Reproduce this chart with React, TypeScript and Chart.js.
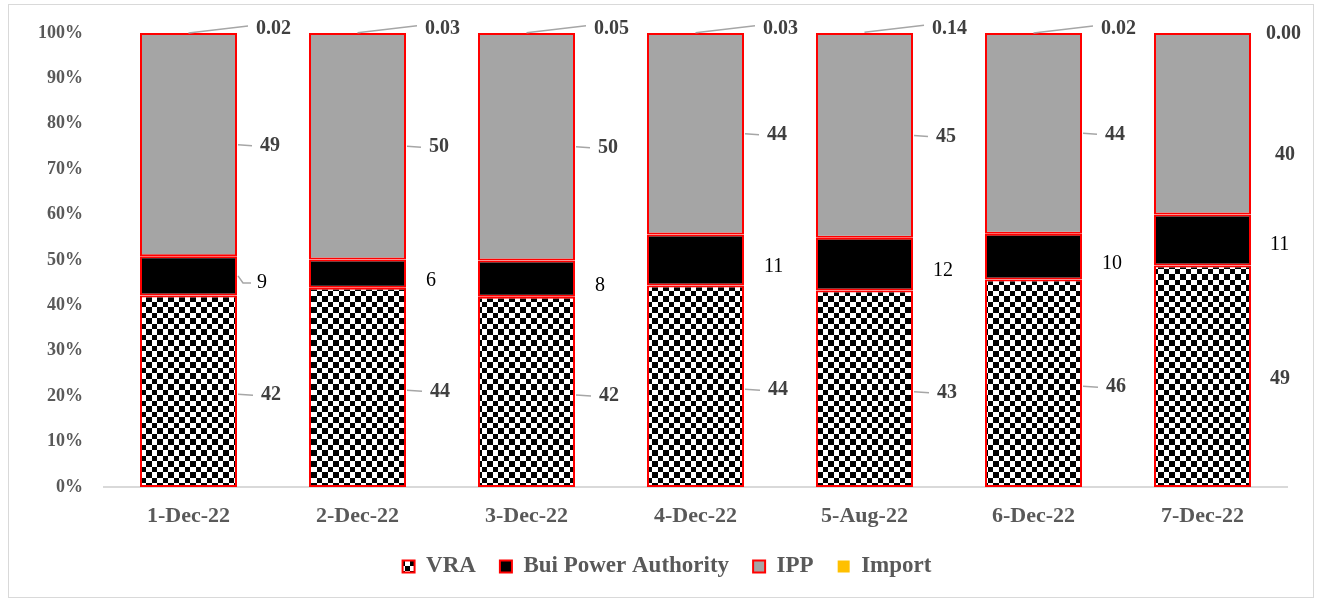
import React, { useEffect, useRef } from "react";
import { Chart, registerables } from "chart.js";

Chart.register(...registerables);

// ---------- data ----------
const CATEGORIES = ["1-Dec-22", "2-Dec-22", "3-Dec-22", "4-Dec-22", "5-Aug-22", "6-Dec-22", "7-Dec-22"];
const SERIES = ["VRA", "Bui Power Authority", "IPP", "Import"];
const VRA = [42.2, 43.9, 41.9, 44.4, 43.3, 45.7, 48.8];
const BUI = [8.6, 6.2, 8.0, 11.2, 11.6, 10.1, 11.2];
const IPP = [49.2, 49.9, 50.1, 44.4, 45.1, 44.2, 40.0];
const IMPORT = [0.02, 0.03, 0.05, 0.03, 0.14, 0.02, 0.0];
const Y_MIN = 0;
const Y_MAX = 100;
const Y_STEP = 10;

// ---------- label styling (placement, not data) ----------
const FONT = "'Liberation Serif', 'DejaVu Serif', serif";
const LABEL_STYLE = [
  { font: `bold 20px ${FONT}`, color: "#404040", dx: 24, dy: 4, decimals: 0 },
  { font: `20px ${FONT}`, color: "#000000", dx: 20, dy: 7, decimals: 0 },
  { font: `bold 20px ${FONT}`, color: "#404040", dx: 23, dy: 1, decimals: 0 },
  { font: `bold 20px ${FONT}`, color: "#404040", dx: 19, dy: -4, decimals: 2 },
];
// leader lines shown per series per bar
const LEADERS = [
  [1, 1, 1, 1, 1, 1, 0],
  [1, 0, 0, 0, 0, 0, 0],
  [1, 1, 1, 1, 1, 1, 0],
  [1, 1, 1, 1, 1, 1, 0],
];
// the last bar keeps default label placement
const LAST_DX = [19, 19, 24, 15];
const LAST_DY = [3, 5, 31, 1];
const LEGEND_SHIFT_X = 19;

function makeChecker(): CanvasPattern | string {
  const c = document.createElement("canvas");
  c.width = 11;
  c.height = 11;
  const g = c.getContext("2d");
  if (!g) return "#000";
  g.fillStyle = "#ffffff";
  g.fillRect(0, 0, 11, 11);
  g.fillStyle = "#000000";
  g.fillRect(0, 0, 5, 5);
  g.fillRect(5, 5, 6, 6);
  const p = g.createPattern(c, "repeat");
  return p || "#000";
}

const legendShift = {
  id: "legendShift",
  beforeDraw(chart: any) {
    const lg = chart.legend;
    if (lg && !lg.__shifted) {
      lg.left += LEGEND_SHIFT_X;
      lg.right += LEGEND_SHIFT_X;
      lg.__shifted = true;
    }
  },
};

const labelPlugin = {
  id: "valueLabels",
  afterDatasetsDraw(chart: any) {
    const ctx = chart.ctx as CanvasRenderingContext2D;
    ctx.save();
    chart.data.datasets.forEach((ds: any, di: number) => {
      const meta = chart.getDatasetMeta(di);
      const st = LABEL_STYLE[di];
      const n = meta.data.length;
      meta.data.forEach((bar: any, j: number) => {
        const p = bar.getProps(["x", "y", "base", "width"], true);
        const v = ds.data[j] as number;
        const text = st.decimals ? v.toFixed(st.decimals) : String(Math.round(v));
        const right = p.x + p.width / 2;
        const top = Math.min(p.y, p.base);
        const mid = (p.y + p.base) / 2;
        const isLast = j === n - 1;
        const dx = isLast ? LAST_DX[di] : st.dx;
        const dy = isLast ? LAST_DY[di] : st.dy;
        const anchorY = di === 3 ? top : mid;
        const tx = right + dx;
        const ty = anchorY + dy;
        if (LEADERS[di][j]) {
          ctx.strokeStyle = "#a6a6a6";
          ctx.lineWidth = 1.5;
          ctx.beginPath();
          if (di === 3) {
            ctx.moveTo(p.x, top);
            ctx.lineTo(tx - 8, ty - 3);
          } else if (di === 1) {
            ctx.moveTo(right + 1, mid);
            ctx.lineTo(right + 6, ty);
            ctx.lineTo(tx - 6, ty);
          } else {
            ctx.moveTo(right + 1, ty - 1);
            ctx.lineTo(tx - 8, ty);
          }
          ctx.stroke();
        }
        ctx.font = st.font;
        ctx.fillStyle = st.color;
        ctx.textAlign = "left";
        ctx.textBaseline = "middle";
        ctx.fillText(text, tx, ty);
      });
    });
    ctx.restore();
  },
};

export default function App() {
  const ref = useRef<HTMLCanvasElement | null>(null);

  useEffect(() => {
    if (!ref.current) return;
    const checker = makeChecker();
    const chart = new Chart(ref.current, {
      type: "bar",
      data: {
        labels: CATEGORIES,
        datasets: [
          { label: SERIES[0], data: VRA, backgroundColor: checker as any, borderColor: "#ff0000", borderWidth: 2 },
          { label: SERIES[1], data: BUI, backgroundColor: "#000000", borderColor: "#ff0000", borderWidth: 2 },
          { label: SERIES[2], data: IPP, backgroundColor: "#a5a5a5", borderColor: "#ff0000", borderWidth: 2 },
          { label: SERIES[3], data: IMPORT, backgroundColor: "#ffc000", borderColor: "#ffc000", borderWidth: 0 },
        ],
      },
      options: {
        animation: false,
        responsive: true,
        maintainAspectRatio: false,
        datasets: {
          bar: { categoryPercentage: 1, barPercentage: 0.574, borderSkipped: false },
        },
        layout: { padding: { left: 0, right: 26, top: 28, bottom: 9 } },
        plugins: {
          tooltip: { enabled: false },
          legend: {
            position: "bottom",
            labels: {
              boxWidth: 12,
              boxHeight: 12,
              padding: 24,
              color: "#595959",
              font: { family: FONT, size: 23, weight: "bold" },
            },
          },
        },
        scales: {
          x: {
            stacked: true,
            grid: { display: false, drawTicks: false },
            border: { display: true, color: "#d9d9d9", width: 2 },
            ticks: {
              color: "#595959",
              padding: 16,
              font: { family: FONT, size: 22, weight: "bold" },
            },
            afterFit: (s: any) => {
              s.height = 44;
            },
          },
          y: {
            stacked: true,
            min: Y_MIN,
            max: Y_MAX,
            grid: { display: false, drawTicks: false },
            border: { display: false },
            ticks: {
              stepSize: Y_STEP,
              color: "#595959",
              padding: 21,
              font: { family: FONT, size: 18, weight: "bold" },
              callback: (v: any) => `${v}%`,
            },
            afterFit: (s: any) => {
              s.width = 95;
              s.paddingTop = 8;
              s.paddingBottom = 8;
            },
          },
        },
      },
      plugins: [labelPlugin, legendShift],
    });
    return () => chart.destroy();
  }, []);

  return (
    <div
      style={{
        position: "absolute",
        left: 8,
        top: 4,
        width: 1306,
        height: 594,
        boxSizing: "border-box",
        border: "1px solid #d9d9d9",
        background: "#fff",
      }}
    >
      <div style={{ position: "relative", width: "100%", height: "100%" }}>
        <canvas ref={ref} />
      </div>
    </div>
  );
}
